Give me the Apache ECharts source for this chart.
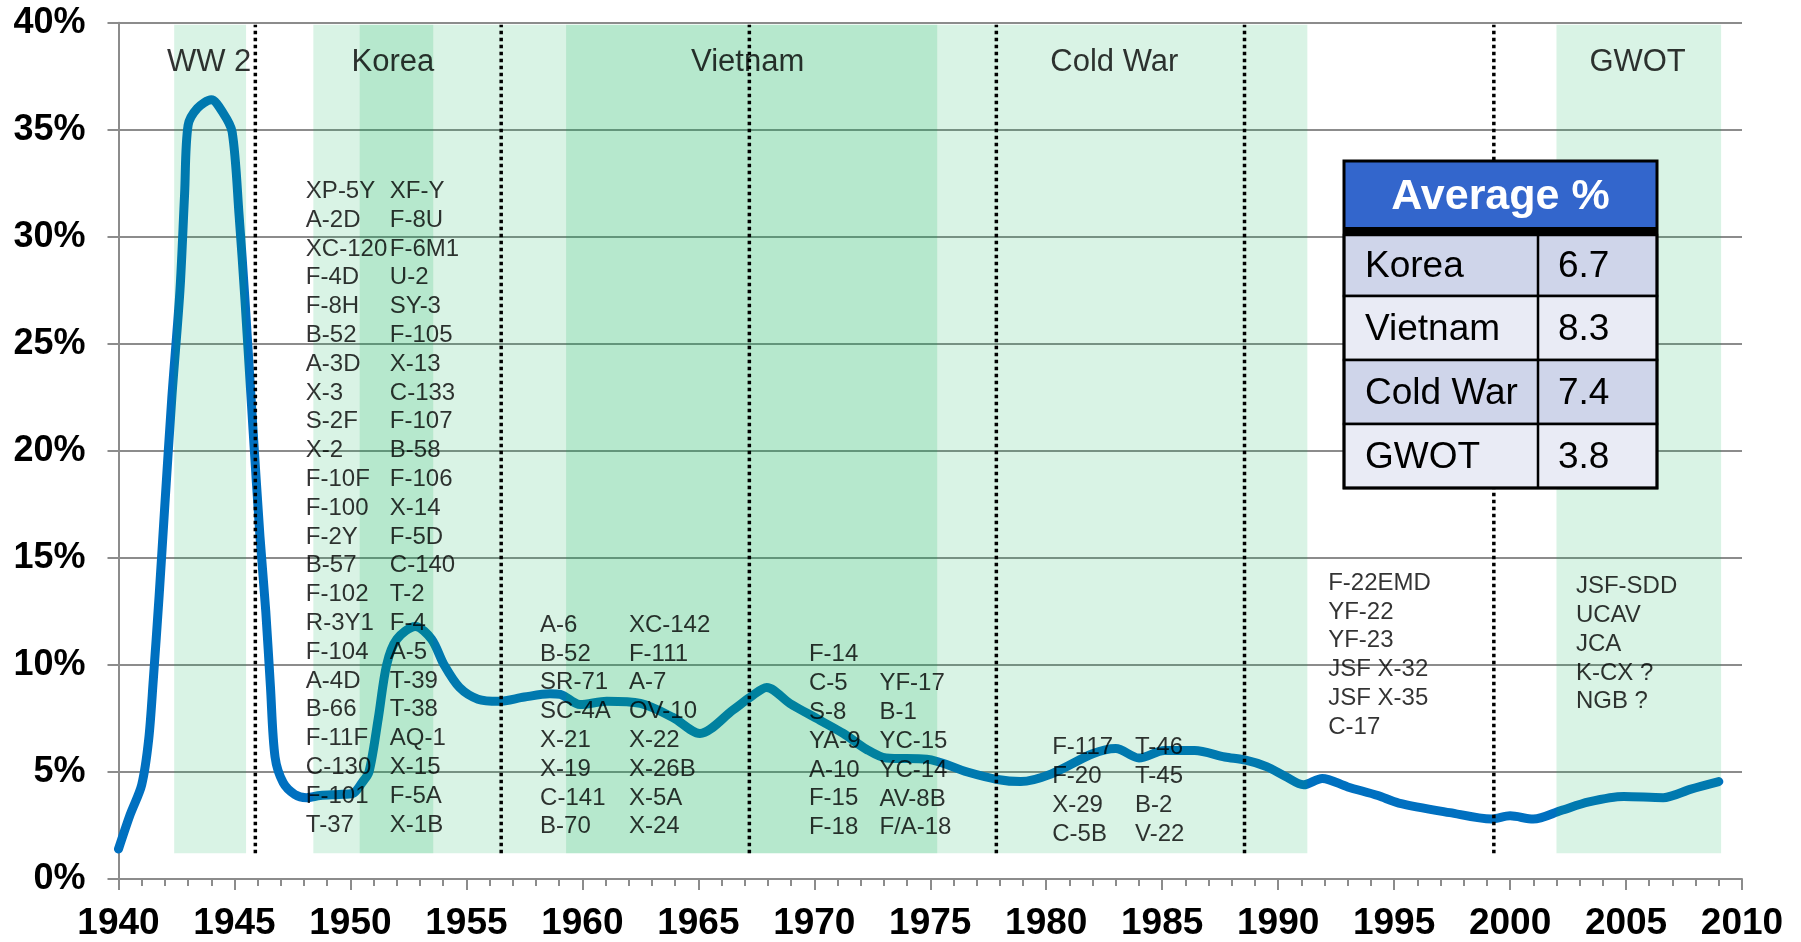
<!DOCTYPE html>
<html><head><meta charset="utf-8">
<script src="https://cdn.jsdelivr.net/npm/echarts@6/dist/echarts.min.js"></script>
<style>html,body{margin:0;padding:0;background:#fff}#c{width:1801px;height:942px}</style>
</head><body><div id="c"></div>
<script>
// ---- data ----
const lineYears = [1940.0,1940.5,1941.0,1941.3,1941.5,1941.75,1942.0,1942.3,1942.65,1942.85,1943.0,1943.4,1944.0,1944.5,1944.9,1945.2,1945.45,1945.8,1946.1,1946.35,1946.55,1946.75,1947.1,1947.6,1948.1,1948.7,1949.5,1950.1,1950.5,1950.8,1951.2,1951.56,1952.0,1952.8,1953.5,1954.04,1954.7,1955.5,1956.4,1957.5,1958.6,1959.05,1959.9,1961.05,1962.5,1963.9,1965.07,1966.5,1967.25,1967.95,1968.95,1970.1,1971.25,1972.26,1973.1,1974.85,1976.6,1977.9,1978.9,1980.2,1982.0,1983.0,1984.0,1985.1,1986.4,1987.7,1988.6,1989.5,1990.3,1991.1,1991.9,1993.0,1994.3,1995.2,1997.4,1999.2,2000.0,2001.0,2002.2,2003.4,2004.9,2006.6,2007.8,2009.0];
const lineValues = [1.4,3.0,4.4,6.5,9.3,13.2,17.5,22.5,27.5,32.0,35.2,36.0,36.4,35.8,34.9,31.0,27.1,21.0,16.0,12.5,9.0,5.7,4.5,3.95,3.8,3.9,3.95,4.0,4.5,5.0,7.5,10.0,11.2,11.8,11.2,10.0,8.95,8.4,8.3,8.5,8.65,8.62,8.15,8.3,8.2,7.55,6.8,7.9,8.5,8.95,8.2,7.5,6.8,6.05,5.65,5.6,5.0,4.65,4.55,4.9,5.85,6.1,5.65,6.0,6.0,5.7,5.55,5.25,4.8,4.4,4.7,4.3,3.9,3.55,3.1,2.8,2.95,2.8,3.2,3.6,3.85,3.8,4.2,4.55];

const xTickLabels = ['1940','1945','1950','1955','1960','1965','1970','1975','1980','1985','1990','1995','2000','2005','2010'];
const yTickLabels = ['0%','5%','10%','15%','20%','25%','30%','35%','40%'];

const periodNames = ['WW 2','Korea','Vietnam','Cold War','GWOT'];
const periodCenters = [1943.93, 1951.85, 1967.15, 1982.96, 2005.52];

const lightBands = [[1942.4,1945.5],[1948.4,1991.26],[2002.0,2009.1]];
const darkBands = [[1950.4,1953.57],[1959.3,1975.3]];
const dividerYears = [1945.9, 1956.5, 1967.2, 1977.85, 1988.55, 1999.3];

const koreaCol1 = ['XP-5Y','A-2D','XC-120','F-4D','F-8H','B-52','A-3D','X-3','S-2F','X-2','F-10F','F-100','F-2Y','B-57','F-102','R-3Y1','F-104','A-4D','B-66','F-11F','C-130','F-101','T-37'];
const koreaCol2 = ['XF-Y','F-8U','F-6M1','U-2','SY-3','F-105','X-13','C-133','F-107','B-58','F-106','X-14','F-5D','C-140','T-2','F-4','A-5','T-39','T-38','AQ-1','X-15','F-5A','X-1B'];
const vietnamCol1 = ['A-6','B-52','SR-71','SC-4A','X-21','X-19','C-141','B-70'];
const vietnamCol2 = ['XC-142','F-111','A-7','OV-10','X-22','X-26B','X-5A','X-24'];
const vietnamCol3 = ['F-14','C-5','S-8','YA-9','A-10','F-15','F-18'];
const vietnamCol4 = ['YF-17','B-1','YC-15','YC-14','AV-8B','F/A-18'];
const coldWarCol1 = ['F-117','F-20','X-29','C-5B'];
const coldWarCol2 = ['T-46','T-45','B-2','V-22'];
const postColdWar = ['F-22EMD','YF-22','YF-23','JSF X-32','JSF X-35','C-17'];
const gwotList = ['JSF-SDD','UCAV','JCA','K-CX ?','NGB ?'];

const tableTitle = 'Average %';
const tableRows = ['Korea','Vietnam','Cold War','GWOT'];
const tableValues = [6.7, 8.3, 7.4, 3.8];

// ---- layout (positions / styles) ----
const FONT = '"Liberation Sans", Arial, sans-serif';
const bandBottom = 1.2, bandTop = 39.9;
const listLayout = [
  [koreaCol1, 1948.1, 32.1], [koreaCol2, 1951.72, 32.1],
  [vietnamCol1, 1958.2, 11.83], [vietnamCol2, 1962.03, 11.83],
  [vietnamCol3, 1969.79, 10.45], [vietnamCol4, 1972.83, 9.1],
  [coldWarCol1, 1980.28, 6.12], [coldWarCol2, 1983.85, 6.12],
  [postColdWar, 1992.18, 13.8], [gwotList, 2002.86, 13.64]
];
const LH = 28.8;

const chart = echarts.init(document.getElementById('c'), null, {renderer:'canvas'});

const tblX = 1344, tblW = 313, tblTop = 161, hdrH = 66, barH = 8, divX = 1538;
const rowEdges = [235, 296, 360, 424, 488];
const graphics = [];
graphics.push({type:'rect', shape:{x:tblX, y:tblTop, width:tblW, height:hdrH}, style:{fill:'#3366CC'}, z:100});
graphics.push({type:'rect', shape:{x:tblX, y:tblTop+hdrH, width:tblW, height:barH}, style:{fill:'#000'}, z:101});
tableRows.forEach((r, i) => {
  const y0 = rowEdges[i], y1 = rowEdges[i+1];
  graphics.push({type:'rect', shape:{x:tblX, y:y0, width:tblW, height:y1-y0},
    style:{fill: i%2===0 ? '#CFD5EA' : '#E9EBF5', stroke:'#000', lineWidth:2.5}, z:100});
  const cy = (y0+y1)/2 + 1.5;
  graphics.push({type:'text', x:1365, y:cy, style:{text:r, font:'37px ' + FONT, fill:'#000', align:'left', verticalAlign:'middle'}, z:102});
  graphics.push({type:'text', x:1558, y:cy, style:{text:tableValues[i].toFixed(1), font:'37px ' + FONT, fill:'#000', align:'left', verticalAlign:'middle'}, z:102});
});
graphics.push({type:'line', shape:{x1:divX, y1:tblTop+hdrH, x2:divX, y2:rowEdges[rowEdges.length-1]}, style:{stroke:'#000', lineWidth:2.5}, z:103});
graphics.push({type:'rect', shape:{x:tblX, y:tblTop, width:tblW, height:rowEdges[rowEdges.length-1]-tblTop}, style:{fill:null, stroke:'#000', lineWidth:3}, z:104});
graphics.push({type:'text', x:tblX+tblW/2, y:tblTop+hdrH/2+3, style:{text:tableTitle, font:'bold 43px ' + FONT, fill:'#fff', align:'center', verticalAlign:'middle'}, z:102});

const bandSeries = (bands, color) => ({
  type:'custom', z:3, silent:true, clip:false,
  encode:{x:[0,1], y:2},
  data: bands.map(b => [b[0], b[1], bandBottom]),
  renderItem: (params, api) => {
    const p0 = api.coord([api.value(0), bandBottom]);
    const p1 = api.coord([api.value(1), bandTop]);
    return {type:'rect', shape:{x:p0[0], y:p1[1], width:p1[0]-p0[0], height:p0[1]-p1[1]}, style:{fill:color}};
  }
});

const option = {
  animation:false,
  backgroundColor:'#fff',
  textStyle:{fontFamily:FONT},
  grid:{left:118.5, right:59, top:22.7, bottom:59.3, containLabel:false},
  xAxis:{
    type:'value', min:1940, max:2010, interval:5,
    axisLine:{show:true, onZero:false, lineStyle:{color:'#8c8c8c', width:2}},
    axisTick:{show:true, length:11, lineStyle:{color:'#8c8c8c', width:2}},
    minorTick:{show:true, splitNumber:5, length:7, lineStyle:{color:'#8c8c8c', width:2}},
    splitLine:{show:false},
    axisLabel:{margin:26, fontSize:37, fontWeight:'bold', color:'#000', fontFamily:FONT,
      formatter:(v) => xTickLabels[Math.round((v-1940)/5)]}
  },
  yAxis:{
    type:'value', min:0, max:40, interval:5,
    axisLine:{show:true, lineStyle:{color:'#8c8c8c', width:2}},
    axisTick:{show:true, length:11, lineStyle:{color:'#8c8c8c', width:2}},
    splitLine:{show:true, lineStyle:{color:'#8c8c8c', width:2}},
    axisLabel:{margin:33, fontSize:36, fontWeight:'bold', color:'#000', fontFamily:FONT,
      formatter:(v) => yTickLabels[Math.round(v/5)]}
  },
  graphic: graphics,
  series:[
    {
      type:'line', z:2, symbol:'none', smooth:0.3,
      data: lineYears.map((y,i) => [y, lineValues[i]]),
      lineStyle:{color:'#0070C0', width:9, cap:'round', join:'round'}
    },
    bandSeries(lightBands, 'rgba(0,176,80,0.15)'),
    bandSeries(darkBands, 'rgba(0,176,80,0.16)'),
    {
      type:'custom', z:4, silent:true, clip:false,
      encode:{x:0, y:1},
      data: dividerYears.map(d => [d, bandBottom]),
      renderItem: (params, api) => {
        const a = api.coord([api.value(0), bandBottom]);
        const b = api.coord([api.value(0), bandTop]);
        return {type:'line', shape:{x1:a[0], y1:a[1], x2:b[0], y2:b[1]}, style:{stroke:'#000', lineWidth:3.5, lineDash:[3.5,3.5]}};
      }
    },
    {
      type:'scatter', z:6, silent:true, symbol:'circle', symbolSize:1,
      itemStyle:{color:'transparent'},
      data: periodNames.map((n,i) => ({value:[periodCenters[i], 38.1], name:n})),
      label:{show:true, position:[0,0], align:'center', verticalAlign:'middle',
        formatter:(p) => p.name, fontSize:31, color:'#000', fontFamily:FONT}
    },
    {
      type:'scatter', z:6, silent:true, symbol:'circle', symbolSize:1,
      itemStyle:{color:'transparent'},
      data: listLayout.map(l => ({value:[l[1], l[2]], name:l[0].join('\n')})),
      label:{show:true, position:[0,-LH/2], align:'left', verticalAlign:'top', lineHeight:LH,
        formatter:(p) => p.name, fontSize:24, color:'#000', fontFamily:FONT}
    }
  ]
};
chart.setOption(option);
</script>
</body></html>
